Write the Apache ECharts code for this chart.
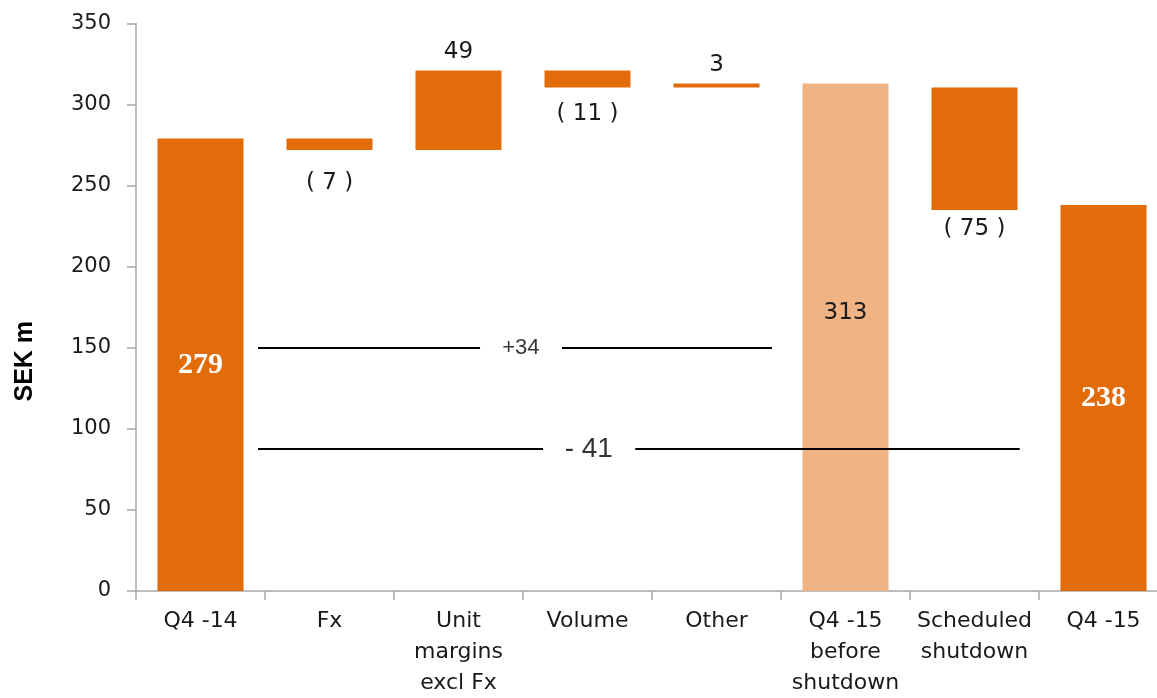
<!DOCTYPE html>
<html>
<head>
<meta charset="utf-8">
<title>SEK m bridge</title>
<script src="https://cdn.jsdelivr.net/npm/echarts@6/dist/echarts.min.js"></script>
<style>
    html, body { margin: 0; padding: 0; background: #fff; }
    #chart1 { width: 1157px; height: 698px; }
</style>
</head>
<body>
<div id="chart1"></div>
<script>
/* 数据 */
var categories = ['Q4 -14', 'Fx', 'Unit\nmargins\nexcl Fx', 'Volume', 'Other', 'Q4 -15\nbefore\nshutdown', 'Scheduled\nshutdown', 'Q4 -15'];
// bar bottom / top
var barLow = [0, 272, 272, 310.5, 310.5, 0, 235, 0];
var barHigh = [279, 279, 321, 321, 313, 313, 310.5, 238];
var barLabels = ['279', '( 7 )', '49', '( 11 )', '3', '313', '( 75 )', '238'];
var yTicks = [0, 50, 100, 150, 200, 250, 300, 350];

// bridge annotations (x in category units, y in SEK m)
var bridgeLevels = [150, 87.6];
var bridgeTexts = ['+34', '- 41'];
var bridgeSpans = [[0.446, 2.167, 2.802, 4.43], [0.446, 2.655, 3.37, 6.35]];
var bridgeTextAt = [2.484, 3.01];

var ChartOper = function () {

    var darkOrange = '#E36C0A';
    var lightOrange = '#F0B383';
    var textColor = '#1a1a1a';
    var axisColor = '#a6a6a6';
    var labelGap = [0, 22, 7, 15, 7, 0, 8, 0];

    // 每个柱子的样式和标签
    var buildBars = function () {
        var items = [];
        for (var i = 0; i < categories.length; i++) {
            var label = {
                show: true,
                formatter: barLabels[i],
                color: textColor,
                fontFamily: 'DejaVu Sans',
                fontSize: 23
            };
            if (i === 0 || i === 7) {
                label.position = 'inside';
                label.color = '#fff';
                label.fontFamily = 'Liberation Serif';
                label.fontWeight = 'bold';
                label.fontSize = 30;
            } else if (i === 5) {
                label.position = 'inside';
                label.offset = [0, -24];
            } else if (barLabels[i].indexOf('(') === 0) {
                label.position = 'bottom';
                label.distance = labelGap[i];
            } else {
                label.position = 'top';
                label.distance = labelGap[i];
            }
            items.push({
                value: barHigh[i] - barLow[i],
                itemStyle: { color: i === 5 ? lightOrange : darkOrange },
                label: label
            });
        }
        return items;
    };

    var buildBridgeLines = function () {
        var lines = [];
        for (var i = 0; i < bridgeLevels.length; i++) {
            var s = bridgeSpans[i];
            lines.push({ coords: [[s[0], bridgeLevels[i]], [s[1], bridgeLevels[i]]] });
            lines.push({ coords: [[s[2], bridgeLevels[i]], [s[3], bridgeLevels[i]]] });
        }
        return lines;
    };

    var buildBridgeTexts = function () {
        var pts = [];
        for (var i = 0; i < bridgeLevels.length; i++) {
            pts.push({
                value: [bridgeTextAt[i], bridgeLevels[i]],
                label: { formatter: bridgeTexts[i], fontSize: i === 0 ? 22 : 28 }
            });
        }
        return pts;
    };

    function getOption() {
        return {
            animation: false,
            backgroundColor: '#fff',
            grid: {
                left: 136,
                top: 23.5,
                width: 1032,
                bottom: 107,
                containLabel: false,
                outerBoundsMode: 'none'
            },
            xAxis: [{
                type: 'category',
                data: categories,
                axisLine: { onZero: false, lineStyle: { color: axisColor, width: 1.5 } },
                axisTick: { show: true, length: 9, interval: 0, lineStyle: { color: axisColor, width: 1.5 } },
                axisLabel: {
                    interval: 0,
                    margin: 15,
                    color: textColor,
                    fontFamily: 'DejaVu Sans',
                    fontSize: 22,
                    lineHeight: 31
                }
            }, {
                type: 'value',
                min: -0.5,
                max: 7.5,
                show: false
            }],
            yAxis: {
                type: 'value',
                min: yTicks[0],
                max: yTicks[yTicks.length - 1],
                interval: 50,
                name: 'SEK m',
                nameLocation: 'middle',
                nameGap: 98,
                nameTextStyle: {
                    color: '#000',
                    fontFamily: 'Liberation Sans',
                    fontWeight: 'bold',
                    fontSize: 25,
                    padding: [0, 108, 0, 0]
                },
                axisLine: { show: true, onZero: false, lineStyle: { color: axisColor, width: 1.5 } },
                axisTick: { show: true, length: 9, lineStyle: { color: axisColor, width: 1.5 } },
                splitLine: { show: false },
                axisLabel: {
                    margin: 25,
                    color: textColor,
                    fontFamily: 'DejaVu Sans',
                    fontSize: 21
                }
            },
            series: [
                {
                    name: 'base',
                    type: 'bar',
                    stack: 'wf',
                    barWidth: 86,
                    silent: true,
                    itemStyle: { color: 'transparent' },
                    data: barLow
                },
                {
                    name: 'SEK m',
                    type: 'bar',
                    stack: 'wf',
                    barWidth: 86,
                    data: buildBars()
                },
                {
                    // 桥接线画在柱子上面
                    name: 'bridge',
                    type: 'lines',
                    coordinateSystem: 'cartesian2d',
                    xAxisIndex: 1,
                    silent: true,
                    z: 10,
                    lineStyle: { color: '#000', width: 2, opacity: 1 },
                    data: buildBridgeLines()
                },
                {
                    name: 'bridgeText',
                    type: 'scatter',
                    xAxisIndex: 1,
                    symbolSize: 0,
                    silent: true,
                    z: 10,
                    label: {
                        show: true,
                        position: 'inside',
                        color: '#000',
                        fontFamily: 'Liberation Sans'
                    },
                    data: buildBridgeTexts()
                }
            ]
        };
    }

    var queryChart1 = function () {
        var myChart = echarts.init(document.getElementById('chart1'));
        myChart.setOption(getOption());
    };

    return {
        queryChart1: function () {
            queryChart1();
        }
    };
}();

ChartOper.queryChart1();
</script>
</body>
</html>
